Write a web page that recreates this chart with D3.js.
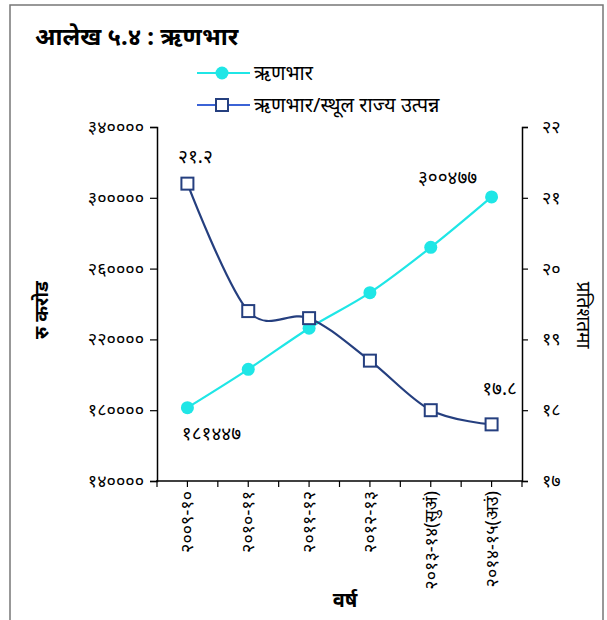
<!DOCTYPE html>
<html><head><meta charset="utf-8">
<script src="https://cdn.jsdelivr.net/npm/d3@7"></script>
<style>body{margin:0;background:#fff}svg{display:block}text{font-family:"Noto Sans","Noto Sans Devanagari","Lohit Devanagari",sans-serif}</style>
</head><body><svg id="c" width="607" height="620"></svg>
<script>
const categories = ["२००९-१०","२०१०-११","२०११-१२","२०१२-१३","२०१३-१४(सुअं)","२०१४-१५(अउं)"];
const debt = [181447, 203100, 226300, 246400, 272000, 300477];
const ratio = [21.2, 19.4, 19.3, 18.7, 18.0, 17.8];
const leftTicks = [140000,180000,220000,260000,300000,340000];
const rightTicks = [17,18,19,20,21,22];
const devDigits = "०१२३४५६७८९";
const toDev = s => String(s).replace(/[0-9]/g, d => devDigits[+d]);
const debtLabels = {0:"१८१४४७", 5:"३००४७७"};
const ratioLabels = {0:"२१.२", 5:"१७.८"};

const svg = d3.select("#c");
const L=157, R=522, T=127, B=481;
const cyan="#1fe6e6", navy="#253f7f";

// frame
svg.append("path").attr("d","M10,640 V5 H603 V640").attr("fill","none").attr("stroke","#777").attr("stroke-width",1.5);

svg.append("text").attr("x",35).attr("y",45).attr("font-size",24).attr("font-weight","bold").text("आलेख ५.४ : ऋणभार");

const x = d3.scalePoint().domain(categories).range([L,R]).padding(0.5);
const yL = d3.scaleLinear().domain([140000,340000]).range([B,T]);
const yR = d3.scaleLinear().domain([17,22]).range([B,T]);

// axes
const gl = svg.append("g").attr("transform",`translate(${L},0)`)
  .call(d3.axisLeft(yL).tickValues(leftTicks).tickSize(7).tickPadding(6).tickFormat(d=>toDev(d)));
const gr = svg.append("g").attr("transform",`translate(${R},0)`)
  .call(d3.axisRight(yR).tickValues(rightTicks).tickSize(6).tickPadding(14).tickFormat(d=>toDev(d)));
const step = x.step();
const half = d3.range(0, categories.length*2+1).map(i => L + i*step/2);
const gb = svg.append("g").attr("transform",`translate(0,${B})`);
gb.append("line").attr("x1",L-1).attr("x2",R+1).attr("stroke","#000").attr("stroke-width",1.5);
gb.selectAll("line.t").data(half).join("line").attr("class","t").attr("x1",d=>d).attr("x2",d=>d).attr("y1",0).attr("y2",6).attr("stroke","#000").attr("stroke-width",1.2);
gb.selectAll("text").data(categories).join("text")
  .attr("transform",d=>`translate(${x(d)+6},10) rotate(-90)`)
  .attr("text-anchor","end").attr("font-size",18).text(d=>d);
[gl,gr].forEach(g=>{
  g.select(".domain").attr("stroke","#000").attr("stroke-width",1.5);
  g.selectAll(".tick line").attr("stroke","#000").attr("stroke-width",1.2);
  g.selectAll(".tick text").attr("font-size",18).attr("dy","0.3em").attr("fill","#000").style("font-family",'"Noto Sans","Noto Sans Devanagari",sans-serif');
});

// axis titles
svg.append("text").attr("transform","translate(48,310) rotate(-90)").attr("text-anchor","middle").attr("font-size",19).attr("font-weight","bold").text("रु करोड");
svg.append("text").attr("transform","translate(577,315) rotate(90)").attr("text-anchor","middle").attr("font-size",19).text("प्रतिशतमा");
svg.append("text").attr("x",345).attr("y",607).attr("text-anchor","middle").attr("font-size",20).attr("font-weight","bold").text("वर्ष");

// lines
const curve = d3.curveCardinal.tension(0);
svg.append("path").attr("d", d3.line().x((d,i)=>x(categories[i])).y(d=>yL(d)).curve(curve)(debt))
  .attr("fill","none").attr("stroke",cyan).attr("stroke-width",2.2);
svg.append("path").attr("d", d3.line().x((d,i)=>x(categories[i])).y(d=>yR(d)).curve(curve)(ratio))
  .attr("fill","none").attr("stroke",navy).attr("stroke-width",2.2);
svg.selectAll("circle.m").data(debt).join("circle").attr("class","m")
  .attr("cx",(d,i)=>x(categories[i])).attr("cy",d=>yL(d)).attr("r",6.5).attr("fill",cyan);
svg.selectAll("rect.m").data(ratio).join("rect").attr("class","m")
  .attr("x",(d,i)=>x(categories[i])-6).attr("y",d=>yR(d)-6).attr("width",12).attr("height",12)
  .attr("fill","#fff").attr("stroke",navy).attr("stroke-width",2);

// data labels
const lab = (t,xx,yy)=>svg.append("text").attr("x",xx).attr("y",yy).attr("text-anchor","middle").attr("font-size",19).text(t);
lab(ratioLabels[0], x(categories[0])+8, yR(ratio[0])-21);
lab(ratioLabels[5], x(categories[5])+8, yR(ratio[5])-29);
lab(debtLabels[0], x(categories[0])+24, yL(debt[0])+32);
lab(debtLabels[5], x(categories[5])-44, yL(debt[5])-13);

// legend
const lg = svg.append("g");
lg.append("line").attr("x1",197).attr("x2",250).attr("y1",73).attr("y2",73).attr("stroke",cyan).attr("stroke-width",2.2);
lg.append("circle").attr("cx",222).attr("cy",73).attr("r",6.5).attr("fill",cyan);
lg.append("text").attr("x",254).attr("y",80).attr("font-size",20).text("ऋणभार");
lg.append("line").attr("x1",197).attr("x2",250).attr("y1",105).attr("y2",105).attr("stroke","#3b63d6").attr("stroke-width",2.2);
lg.append("rect").attr("x",216).attr("y",99).attr("width",12).attr("height",12).attr("fill","#fff").attr("stroke",navy).attr("stroke-width",2);
lg.append("text").attr("x",254).attr("y",112).attr("font-size",20).text("ऋणभार/स्थूल राज्य उत्पन्न");
</script></body></html>
